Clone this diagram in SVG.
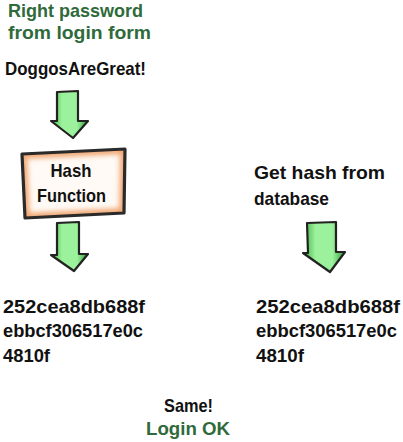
<svg xmlns="http://www.w3.org/2000/svg" width="403" height="442" viewBox="0 0 403 442">
<style>
text{font-family:"Liberation Sans","DejaVu Sans",sans-serif;font-weight:bold;font-size:18.5px}
.g{fill:#2f6a3a}
.k{fill:#111}
.arrow{fill:url(#ag);stroke:#222;stroke-width:2.2;stroke-linejoin:round}
</style>
<defs>
<linearGradient id="ag" x1="0" y1="0" x2="1" y2="0">
<stop offset="0" stop-color="#3fae3f"/>
<stop offset="0.3" stop-color="#9cf29c"/>
<stop offset="0.7" stop-color="#9cf29c"/>
<stop offset="1" stop-color="#2f9a34"/>
</linearGradient>
<filter id="bl" x="-10%" y="-10%" width="120%" height="120%"><feGaussianBlur stdDeviation="2.5"/></filter>
<clipPath id="bc"><path d="M22,154 L125,149 L124,213 L25,218 Z"/></clipPath>
</defs>
<g id="n-right-password"><text class="g" x="8" y="17" textLength="135" lengthAdjust="spacingAndGlyphs">Right password</text><text class="g" x="8" y="39" textLength="143" lengthAdjust="spacingAndGlyphs">from login form</text></g>
<g id="n-input"><text class="k" x="5" y="75" textLength="141" lengthAdjust="spacingAndGlyphs">DoggosAreGreat!</text></g>
<g id="n-hash-function">
<path d="M22,154 L125,149 L124,213 L25,218 Z" fill="#fffaf5"/>
<path d="M22,154 L125,149 L124,213 L25,218 Z" fill="none" stroke="#f0a875" stroke-width="10" filter="url(#bl)" clip-path="url(#bc)"/>
<path d="M22,154 L125,149 L124,213 L25,218 Z" fill="none" stroke="#2a2a2a" stroke-width="3.2" stroke-linejoin="round"/>
<text class="k" x="71" y="177" text-anchor="middle" textLength="41" lengthAdjust="spacingAndGlyphs">Hash</text>
<text class="k" x="37" y="202" textLength="69" lengthAdjust="spacingAndGlyphs">Function</text>
</g>
<g id="n-get-hash"><text class="k" x="254" y="179" textLength="131" lengthAdjust="spacingAndGlyphs">Get hash from</text><text class="k" x="254" y="205" textLength="75" lengthAdjust="spacingAndGlyphs">database</text></g>
<g id="n-hash-left">
<text class="k" x="3" y="313" textLength="142" lengthAdjust="spacingAndGlyphs">252cea8db688f</text>
<text class="k" x="3" y="337" textLength="140" lengthAdjust="spacingAndGlyphs">ebbcf306517e0c</text>
<text class="k" x="3" y="362" textLength="47" lengthAdjust="spacingAndGlyphs">4810f</text>
</g>
<g id="n-hash-right">
<text class="k" x="256" y="313" textLength="144" lengthAdjust="spacingAndGlyphs">252cea8db688f</text>
<text class="k" x="256" y="337" textLength="141" lengthAdjust="spacingAndGlyphs">ebbcf306517e0c</text>
<text class="k" x="256" y="362" textLength="48" lengthAdjust="spacingAndGlyphs">4810f</text>
</g>
<g id="n-result"><text class="k" x="164" y="412" textLength="49" lengthAdjust="spacingAndGlyphs">Same!</text><text class="g" x="146" y="435" textLength="84" lengthAdjust="spacingAndGlyphs">Login OK</text></g>
<g id="connectors">
<path class="arrow" d="M57,92 L78,91 L78,121 L88,121 L73,138 L51,121 L57,121 Z"/>
<path class="arrow" d="M57,223 L79,222 L79,254 L88,254 L74,271 L51,255 L57,255 Z"/>
<path class="arrow" d="M307,223 L336,222 L336,252 L345,252 L330,272 L303,253 L308,253 Z"/>
</g>
</svg>
